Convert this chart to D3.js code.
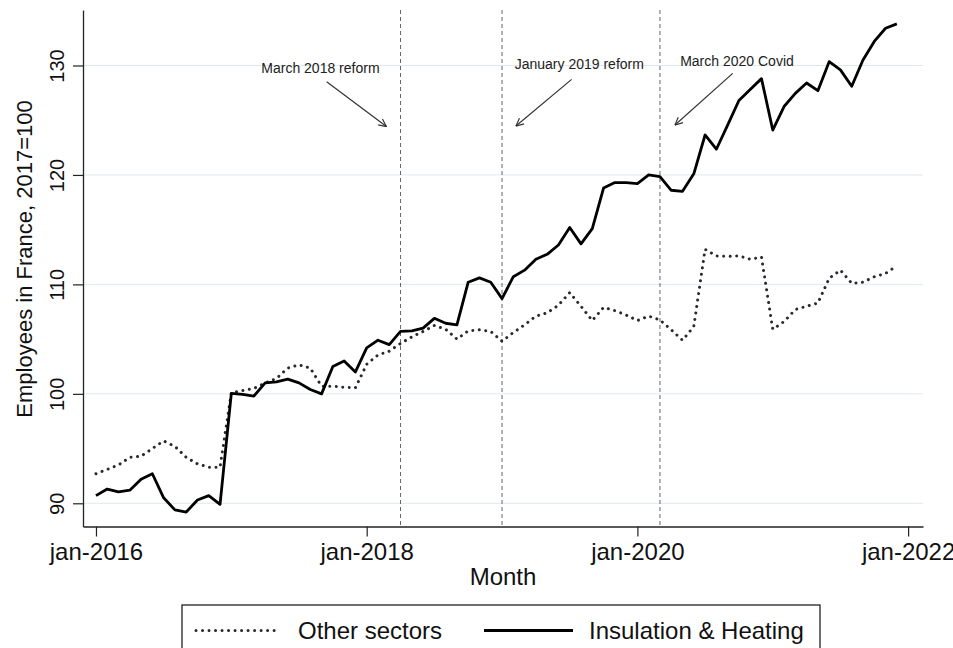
<!DOCTYPE html>
<html>
<meta charset="utf-8">
<style>
body { margin: 0; background: #fff; }
svg { display: block; font-family: "Liberation Sans", Arial, sans-serif; }
</style>
<script src="https://d3js.org/d3.v7.min.js"></script>
<body>
<div id="chart"></div>
<script>
// Employees in France, 2017=100 -- one value per month, jan-2016 .. dec-2021
var insulation = [
  90.7, 91.3, 91.05, 91.2, 92.2, 92.7, 90.5, 89.4, 89.2, 90.3, 90.7, 89.9,
  100.05, 99.95, 99.8, 101.0, 101.1, 101.35, 101.0, 100.4, 100.0, 102.5, 103.0, 102.0,
  104.2, 104.9, 104.5, 105.7, 105.75, 106.0, 106.9, 106.45, 106.3, 110.2, 110.6, 110.2,
  108.7, 110.7, 111.3, 112.3, 112.75, 113.6, 115.2, 113.7, 115.1, 118.8, 119.3, 119.3,
  119.2, 120.0, 119.85, 118.6, 118.5, 120.1, 123.65, 122.35, 124.55, 126.8, 127.8, 128.8,
  124.1, 126.25, 127.45, 128.4, 127.7, 130.35, 129.6, 128.1, 130.5, 132.2, 133.4, 133.8
];
var otherSectors = [
  92.7, 93.1, 93.5, 94.2, 94.3, 95.0, 95.7, 95.2, 94.2, 93.6, 93.3, 93.3,
  100.1, 100.3, 100.5, 101.0, 101.4, 102.35, 102.65, 102.35, 100.7, 100.7, 100.6, 100.55,
  102.7, 103.55, 103.9, 104.6, 105.2, 105.7, 106.25, 105.9, 105.0, 105.75, 105.85, 105.7,
  104.8, 105.6, 106.3, 107.1, 107.4, 108.1, 109.25, 108.0, 106.7, 107.9, 107.6, 107.2,
  106.7, 107.1, 106.75, 105.85, 104.9, 106.15, 113.2, 112.6, 112.55, 112.6, 112.3, 112.5,
  105.9, 106.6, 107.7, 108.0, 108.3, 110.55, 111.3, 110.1, 110.2, 110.7, 111.0, 111.7
];

var seriesNames = ["Other sectors", "Insulation & Heating"];
var xTicks = [0, 24, 48, 72];               // months since jan-2016
var xTickLabels = ["jan-2016", "jan-2018", "jan-2020", "jan-2022"];
var yTicks = [90, 100, 110, 120, 130];

// event lines (month index) and their notes
var eventMonths = [27, 36, 50];
var eventLabels = ["March 2018 reform", "January 2019 reform", "March 2020 Covid"];
// note placement in data units: [month, value]
var labelAt = [[19.9, 129.34], [42.85, 129.68], [56.83, 129.98]];
var arrowFrom = [[20.45, 128.52], [42.17, 128.73], [56.45, 129.28]];
var arrowTo = [[25.75, 124.42], [37.23, 124.47], [51.33, 124.56]];

var svg = d3.select("#chart").append("svg")
  .attr("width", 953)
  .attr("height", 648);

var x = d3.scaleLinear().domain([-1.15, 73.32]).range([83, 923]);
var y = d3.scaleLinear().domain([87.88, 135.07]).range([526.5, 10]);

// gridlines
svg.append("g").selectAll("line")
  .data(yTicks).enter().append("line")
    .attr("x1", x.range()[0]).attr("x2", x.range()[1])
    .attr("y1", function(d) { return y(d); })
    .attr("y2", function(d) { return y(d); })
    .attr("stroke", "#dfe9ed")
    .attr("stroke-width", 1);

// dashed event lines
svg.append("g").selectAll("line")
  .data(eventMonths).enter().append("line")
    .attr("x1", function(d) { return x(d); })
    .attr("x2", function(d) { return x(d); })
    .attr("y1", y.range()[1]).attr("y2", y.range()[0])
    .attr("stroke", "#666")
    .attr("stroke-width", 1)
    .attr("stroke-dasharray", "4,3");

// X axis
var xAxis = svg.append("g")
  .attr("transform", "translate(0," + y.range()[0] + ")")
  .call(d3.axisBottom(x)
    .tickValues(xTicks)
    .tickFormat(function(d, i) { return xTickLabels[i]; })
    .tickSize(10)
    .tickSizeOuter(0));
xAxis.attr("font-family", null).attr("font-size", null);
xAxis.select(".domain").attr("stroke", "#222").attr("stroke-width", 1.3);
xAxis.selectAll(".tick line").attr("stroke", "#222").attr("stroke-width", 1.2);
xAxis.selectAll(".tick text")
  .attr("y", 33.5).attr("dy", 0)
  .attr("fill", "#111")
  .style("font-size", "24px");

// Y axis
var yAxis = svg.append("g")
  .attr("transform", "translate(" + x.range()[0] + ",0)")
  .call(d3.axisLeft(y)
    .tickValues(yTicks)
    .tickSize(10)
    .tickSizeOuter(0));
yAxis.attr("font-family", null).attr("font-size", null);
yAxis.select(".domain").attr("stroke", "#222").attr("stroke-width", 1.3);
yAxis.selectAll(".tick line").attr("stroke", "#222").attr("stroke-width", 1.2);
yAxis.selectAll(".tick text")
  .attr("x", 0).attr("y", 0).attr("dy", 0)
  .attr("text-anchor", "middle")
  .attr("transform", "translate(-19.5,0) rotate(-90)")
  .attr("fill", "#111")
  .style("font-size", "20px");

// axis titles
svg.append("text")
  .attr("x", 503).attr("y", 585)
  .attr("text-anchor", "middle")
  .attr("fill", "#111")
  .style("font-size", "24px")
  .text("Month");

svg.append("text")
  .attr("transform", "translate(32,259) rotate(-90)")
  .attr("text-anchor", "middle")
  .attr("fill", "#111")
  .style("font-size", "22px")
  .text("Employees in France, 2017=100");

// lines
var line = d3.line()
  .x(function(d, i) { return x(i); })
  .y(function(d) { return y(d); });

svg.append("path")
  .datum(otherSectors)
  .attr("fill", "none")
  .attr("stroke", "#2a2a2a")
  .attr("stroke-width", 3)
  .attr("stroke-linecap", "round")
  .attr("stroke-dasharray", "0.01,6.5")
  .attr("d", line);

svg.append("path")
  .datum(insulation)
  .attr("fill", "none")
  .attr("stroke", "#000")
  .attr("stroke-width", 2.8)
  .attr("stroke-linejoin", "round")
  .attr("d", line);

// notes with arrows
svg.append("defs").append("marker")
  .attr("id", "arrow")
  .attr("viewBox", "0 0 10 10")
  .attr("refX", 9.5).attr("refY", 5)
  .attr("markerWidth", 9).attr("markerHeight", 9)
  .attr("markerUnits", "userSpaceOnUse")
  .attr("orient", "auto")
  .append("path")
    .attr("d", "M1,1 L9.5,5 L1,9")
    .attr("fill", "none")
    .attr("stroke", "#333")
    .attr("stroke-width", 1.3);

svg.append("g").selectAll("line")
  .data(eventLabels).enter().append("line")
    .attr("x1", function(d, i) { return x(arrowFrom[i][0]); })
    .attr("y1", function(d, i) { return y(arrowFrom[i][1]); })
    .attr("x2", function(d, i) { return x(arrowTo[i][0]); })
    .attr("y2", function(d, i) { return y(arrowTo[i][1]); })
    .attr("stroke", "#333")
    .attr("stroke-width", 1.2)
    .attr("marker-end", "url(#arrow)");

svg.append("g").selectAll("text")
  .data(eventLabels).enter().append("text")
    .attr("x", function(d, i) { return x(labelAt[i][0]); })
    .attr("y", function(d, i) { return y(labelAt[i][1]); })
    .attr("text-anchor", "middle")
    .attr("fill", "#222")
    .style("font-size", "14px")
    .text(function(d) { return d; });

// legend
var legend = svg.append("g");
legend.append("rect")
  .attr("x", 182).attr("y", 605)
  .attr("width", 638).attr("height", 60)
  .attr("fill", "none")
  .attr("stroke", "#222")
  .attr("stroke-width", 1.3);

legend.append("line")
  .attr("x1", 196).attr("x2", 280).attr("y1", 630.5).attr("y2", 630.5)
  .attr("stroke", "#2a2a2a").attr("stroke-width", 3)
  .attr("stroke-linecap", "round").attr("stroke-dasharray", "0.01,6.5");
legend.append("line")
  .attr("x1", 484).attr("x2", 573).attr("y1", 630.5).attr("y2", 630.5)
  .attr("stroke", "#000").attr("stroke-width", 2.8);

legend.selectAll("text")
  .data(seriesNames).enter().append("text")
    .attr("x", function(d, i) { return i === 0 ? 298 : 589; })
    .attr("y", 639)
    .attr("fill", "#111")
    .style("font-size", "24px")
    .text(function(d) { return d; });
</script>
</body>
</html>
